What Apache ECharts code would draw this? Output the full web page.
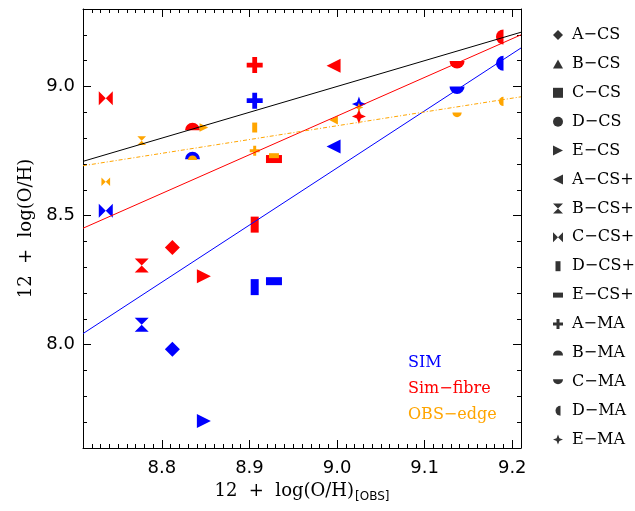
<!DOCTYPE html>
<html>
<head>
<meta charset="utf-8">
<script src="https://cdn.jsdelivr.net/npm/echarts@6/dist/echarts.min.js"></script>
<style>html,body{margin:0;padding:0;background:#fff;}#c{width:635px;height:511px;}</style>
</head>
<body>
<div id="c"></div>
<script>
// ---- data ----
const markerNames = ['A−CS','B−CS','C−CS','D−CS','E−CS','A−CS+','B−CS+','C−CS+','D−CS+','E−CS+','A−MA','B−MA','C−MA','D−MA','E−MA'];
const obsX   = [8.812, null, null, null, 8.848, 8.996, 8.777, 8.736, 8.906, 8.928, 8.906, 8.835, 9.137, 9.190, 9.025];
const simY   = [7.982, null, null, null, 7.705, 8.768, 8.077, 8.519, 8.223, 8.246, 8.945, 8.718, 9.000, 9.090, 8.932];
const fibreY = [8.376, null, null, null, 8.265, 9.080, 8.307, 8.954, 8.465, 8.719, 9.083, 8.830, 9.099, 9.192, 8.884];
const edgeY  = [null,  null, null, null, 8.841, 8.870, 8.790, 8.631, 8.841, 8.732, 8.751, 8.715, 8.899, 8.942, 8.919];

const fitX        = [8.71, 9.21];
const fitOneToOne = [8.71, 9.21];
const fitSim      = [8.043, 9.149];
const fitFibre    = [8.451, 9.200];
const fitEdge     = [8.693, 8.960];

const xMajorTicks = [8.8, 8.9, 9.0, 9.1, 9.2];
const yMajorTicks = [8.0, 8.5, 9.0];
const xRange = [8.71, 9.21];
const yRange = [7.6, 9.3];
const xMinorTicks = []; for (let k = 0; k <= 50; k++) xMinorTicks.push(+(8.71 + 0.01 * k).toFixed(2));
const yMinorTicks = []; for (let k = 0; k <= 17; k++) yMinorTicks.push(+(7.6 + 0.1 * k).toFixed(1));

const groupNames = ['SIM', 'Sim−fibre', 'OBS−edge'];
const groupColors = ['#0000ff', '#ff0000', '#ffa500'];
const groupY = [simY, fibreY, edgeY];
const groupScale = [1, 1, 0.62];

// ---- marker shapes (style only) ----
const shapes = [
  {sym: 'path://M5,0L10,5L5,10L0,5Z', size: [15, 15]},
  {sym: 'path://M5,0L10,9L0,9Z', size: [14, 13]},
  {sym: 'path://M0,0H10V10H0Z', size: [13, 13]},
  {sym: 'circle', size: [14, 14]},
  {sym: 'path://M0,0L10,5L0,10Z', size: [14, 14]},
  {sym: 'path://M10,0L0,5L10,10Z', size: [14, 14]},
  {sym: 'path://M0,0L10,0L5,5L10,10L0,10L5,5Z', size: [14, 14]},
  {sym: 'path://M0,0L5,5L0,10ZM10,0L5,5L10,10Z', size: [14, 14]},
  {sym: 'path://M0,0H5V10H0Z', size: [8, 16]},
  {sym: 'path://M0,0H10V5H0Z', size: [16, 8]},
  {sym: 'path://M3.5,0H6.5V3.5H10V6.5H6.5V10H3.5V6.5H0V3.5H3.5Z', size: [16, 16]},
  {sym: 'path://M0,10A10,10 0 0 1 20,10Z', size: [15, 7.5], off: [0, '-50%']},
  {sym: 'path://M0,0A10,10 0 0 0 20,0Z', size: [15, 7.5], off: [0, '50%']},
  {sym: 'path://M10,0A10,10 0 0 0 10,20Z', size: [7.5, 15], off: ['-50%', 0]},
  {sym: 'path://M5,0L6.4,3.6L10,5L6.4,6.4L5,10L3.6,6.4L0,5L3.6,3.6Z', size: [14, 15]}
];

const series = [];
// legend-only series (black markers)
markerNames.forEach((n, i) => {
  series.push({type: 'scatter', name: n, data: [], symbol: shapes[i].sym, symbolKeepAspect: true, itemStyle: {color: '#000'}});
});
// data series
groupY.forEach((ys, g) => {
  markerNames.forEach((n, i) => {
    if (obsX[i] == null || ys[i] == null) return;
    const s = shapes[i];
    series.push({
      type: 'scatter', name: n + ' ' + groupNames[g],
      xAxisIndex: 0, yAxisIndex: 0,
      data: [[obsX[i], ys[i]]],
      symbol: s.sym,
      symbolSize: [s.size[0] * groupScale[g], s.size[1] * groupScale[g]],
      symbolOffset: s.off || [0, 0],
      itemStyle: {color: groupColors[g], opacity: 1},
      z: 2 + g,
      silent: true
    });
  });
});
// fit lines
const fits = [[fitOneToOne, '#000', 'solid'], [fitSim, '#0000ff', 'solid'], [fitFibre, '#ff0000', 'solid'], [fitEdge, '#ffa500', [4, 2, 1, 2]]];
fits.forEach(([ys, col, type], k) => {
  series.push({
    type: 'line', name: 'fit' + k, xAxisIndex: 0, yAxisIndex: 0,
    data: fitX.map((x, j) => [x, ys[j]]),
    symbol: 'none', silent: true, z: 6,
    lineStyle: {color: col, width: 1, type: type}
  });
});

function axisBase(isX, pos, major, showLabel) {
  const r = isX ? xRange : yRange;
  return {
    type: 'value', min: r[0], max: r[1], position: pos,
    axisLine: {show: major, onZero: false, lineStyle: {color: '#000', width: 1}},
    axisTick: {show: true, inside: true, length: major ? 8 : 4,
      customValues: major ? (isX ? xMajorTicks : yMajorTicks) : (isX ? xMinorTicks : yMinorTicks),
      lineStyle: {color: '#000', width: 1}},
    axisLabel: showLabel ? {show: true, customValues: isX ? xMajorTicks : yMajorTicks,
      formatter: v => v.toFixed(1), fontSize: 18, fontFamily: 'DejaVu Sans', color: '#000', margin: isX ? 11 : 8}
      : {show: false},
    splitLine: {show: false}
  };
}

const xAxes = [
  Object.assign(axisBase(true, 'bottom', true, true), {
    name: '{t|12  +  log(O/H)}{s|[OBS]}', nameLocation: 'middle', nameGap: 30,
    nameTextStyle: {rich: {
      t: {fontSize: 18, fontFamily: 'DejaVu Serif', color: '#000', lineHeight: 24, verticalAlign: 'middle'},
      s: {fontSize: 12, fontFamily: 'DejaVu Sans', color: '#000', lineHeight: 24, verticalAlign: 'bottom', padding: [8, 0, 0, 1]}
    }}
  }),
  axisBase(true, 'bottom', false, false),
  axisBase(true, 'top', true, false),
  axisBase(true, 'top', false, false)
];
const yAxes = [
  Object.assign(axisBase(false, 'left', true, true), {
    name: '12  +  log(O/H)', nameLocation: 'middle', nameGap: 46,
    nameTextStyle: {fontSize: 18, fontFamily: 'DejaVu Serif', color: '#000'}
  }),
  axisBase(false, 'left', false, false),
  axisBase(false, 'right', true, false),
  axisBase(false, 'right', false, false)
];

const chart = echarts.init(document.getElementById('c'), null, {renderer: 'canvas'});
chart.setOption({
  animation: false,
  backgroundColor: '#fff',
  grid: {left: 83, right: 114, top: 9, bottom: 63, containLabel: false, outerBoundsMode: 'none'},
  xAxis: xAxes,
  yAxis: yAxes,
  legend: {
    data: markerNames, orient: 'vertical', left: 553, top: 26,
    itemWidth: 10, itemHeight: 10, itemGap: 10.9, selectedMode: false, symbolKeepAspect: true,
    textStyle: {fontSize: 16, lineHeight: 18, fontFamily: 'DejaVu Serif', color: '#000', padding: [0, 0, 0, 4]},
    padding: 0
  },
  graphic: [
    {type: 'text', left: 408, top: 355, style: {text: groupNames[0], fill: groupColors[0], font: '16px "DejaVu Serif"'}},
    {type: 'text', left: 408, top: 381, style: {text: groupNames[1], fill: groupColors[1], font: '16px "DejaVu Serif"'}},
    {type: 'text', left: 408, top: 407, style: {text: groupNames[2], fill: groupColors[2], font: '16px "DejaVu Serif"'}}
  ],
  series: series
});
</script>
</body>
</html>
